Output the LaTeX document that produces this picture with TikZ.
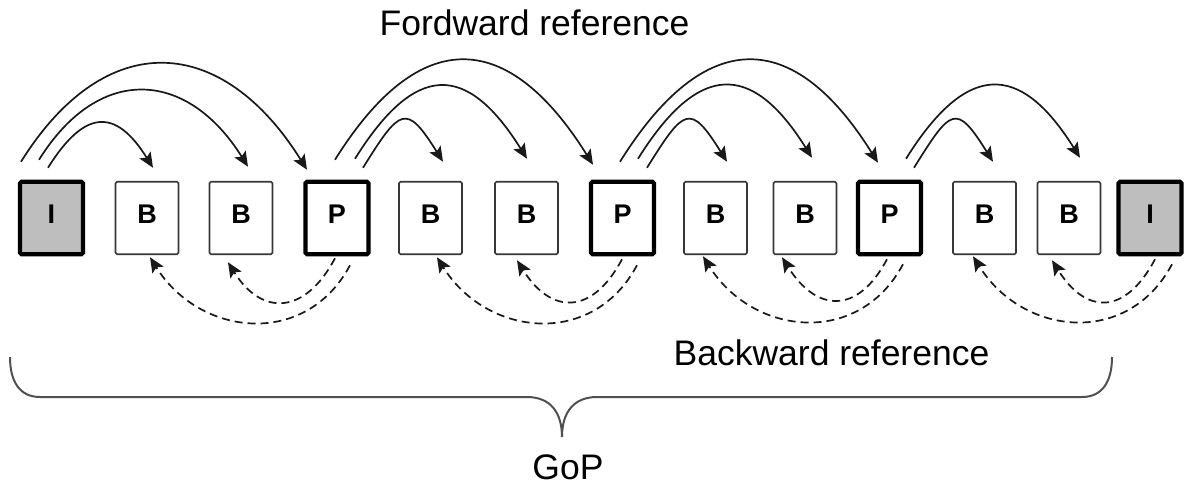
\documentclass[tikz,border=0pt]{standalone}
\usepackage{fontspec}
\setmainfont{Liberation Sans}
\usepackage{tikz}
\usetikzlibrary{
  arrows.meta,
  calc
}
\definecolor{inkdark}{RGB}{25, 25, 25}
\definecolor{framegray}{RGB}{55, 55, 55}
\definecolor{intrafill}{RGB}{190, 190, 190}
\definecolor{bracegray}{RGB}{80, 80, 80}
\tikzset{
  picbox/.style = {
    rectangle, rounded corners=1.5pt,
    draw=framegray, line width=1.6pt, fill=#1,
    minimum width=63pt, minimum height=72.5pt,
    inner sep=0pt, outer sep=0pt, text depth=8pt,
    font=\fontsize{27}{27}\selectfont\bfseries
  },
  picbox/.default = white,
  keybox/.style = {
    picbox=#1, draw=black, line width=4.2pt
  },
  keybox/.default = white,
  fwd/.style = {-{Stealth[length=15pt, width=13pt, inset=3pt]},
    draw=inkdark, line width=1.7pt},
  bwd/.style = {-{Stealth[length=15pt, width=13pt, inset=3pt]},
    draw=inkdark, line width=1.7pt, dash pattern=on 8pt off 5pt},
  shorthop/.style  = {out=58, in=122, distance=70pt},
  midhop/.style    = {out=58, in=122, distance=114pt},
  longhop/.style   = {out=58, in=122, distance=160pt},
  shortback/.style = {out=-118, in=-58, distance=64pt},
  longback/.style  = {out=-118, in=-58, distance=94pt},
  gopbrace/.style  = {draw=bracegray, line width=2pt},
  lbl/.style = {anchor=base, inner sep=0pt,
    font=\fontsize{35.5}{40}\selectfont},
}

\begin{document}
\begin{tikzpicture}[x=1pt, y=1pt]
  \useasboundingbox (0,0) rectangle (1184,-488);

  %% ── Frame row ──────────────────────────────────────────────────────────
  \node[keybox=intrafill] (I1) at (51.5,-218)  {I};
  \node[picbox]           (B1) at (147,-218)   {B};
  \node[picbox]           (B2) at (241,-218)   {B};
  \node[keybox]           (P1) at (337,-218)   {P};
  \node[picbox]           (B3) at (430.5,-218) {B};
  \node[picbox]           (B4) at (526.5,-218) {B};
  \node[keybox]           (P2) at (622.5,-218) {P};
  \node[picbox]           (B5) at (715.5,-218) {B};
  \node[picbox]           (B6) at (805,-218)   {B};
  \node[keybox]           (P3) at (889.5,-218) {P};
  \node[picbox]           (B7) at (984.5,-218) {B};
  \node[picbox]           (B8) at (1069,-218)  {B};
  \node[keybox=intrafill] (I2) at (1150,-218)  {I};

  %% ── Forward references ─────────────────────────────────────────────────
  \draw[fwd] ($(I1.north)+(-3.5,14)$)  to[shorthop] ($(B1.north)+(6,14)$);
  \draw[fwd] ($(I1.north)+(-12.5,22)$) to[midhop]   ($(B2.north)+(7,15)$);
  \draw[fwd] ($(I1.north)+(-30.5,20)$) to[longhop]  ($(P1.north)+(-30,12)$);

  \draw[fwd] ($(P1.north)+(26,14)$)    to[shorthop] ($(B3.north)+(12.5,20)$);
  \draw[fwd] ($(P1.north)+(18,23)$)    to[midhop]   ($(B4.north)+(0.5,23)$);
  \draw[fwd] ($(P1.north)+(-2,22)$)    to[longhop]  ($(P2.north)+(-29.5,17)$);

  \draw[fwd] ($(P2.north)+(24.5,14)$)  to[shorthop] ($(B5.north)+(11.5,20)$);
  \draw[fwd] ($(P2.north)+(15.5,23)$)  to[midhop]   ($(B6.north)+(7,24)$);
  \draw[fwd] ($(P2.north)+(-2.5,20)$)  to[longhop]  ($(P3.north)+(-11.5,19)$);

  \draw[fwd] ($(P3.north)+(24.5,14)$)  to[shorthop] ($(B7.north)+(8.5,20)$);
  \draw[fwd] ($(P3.north)+(16.5,23)$)  to[midhop]   ($(B8.north)+(11,24)$);

  %% ── Backward references ────────────────────────────────────────────────
  \draw[bwd] ($(P1.south)+(-2,-4)$)    to[shortback] ($(B2.south)+(-13,-8)$);
  \draw[bwd] ($(P1.south)+(13,-11)$)   to[longback]  ($(B1.south)+(3,-3)$);

  \draw[bwd] ($(P2.south)+(-0.5,-5)$)  to[shortback] ($(B4.south)+(-9.5,-6)$);
  \draw[bwd] ($(P2.south)+(14.5,-11)$) to[longback]  ($(B3.south)+(6.5,-3)$);

  \draw[bwd] ($(P3.south)+(-2.5,-5)$)  to[shortback] ($(B6.south)+(-23,-3)$);
  \draw[bwd] ($(P3.south)+(13.5,-10)$) to[longback]  ($(B5.south)+(-12.5,-2)$);

  \draw[bwd] ($(I2.south)+(5,-5)$)     to[shortback] ($(B8.south)+(-17,-6)$);
  \draw[bwd] ($(I2.south)+(22,-10)$)   to[longback]  ($(B7.south)+(-11.5,-2)$);

  %% ── GoP brace ──────────────────────────────────────────────────────────
  \draw[gopbrace] (10,-357) .. controls (10,-382) and (20,-397) .. (40,-397)
    -- (527,-397) .. controls (550,-397) and (562,-412) .. (562,-437)
    .. controls (562,-412) and (574,-397) .. (597,-397)
    -- (1082,-397) .. controls (1102,-397) and (1112,-382) .. (1112,-357);

  %% ── Labels ─────────────────────────────────────────────────────────────
  \node[lbl] (fwdlbl) at (534.5,-35) {Fordward reference};
  \node[lbl] (bwdlbl) at (831.5,-365) {Backward reference};
  \node[lbl] (goplbl) at (568,-479)  {GoP};

\end{tikzpicture}
\end{document}
